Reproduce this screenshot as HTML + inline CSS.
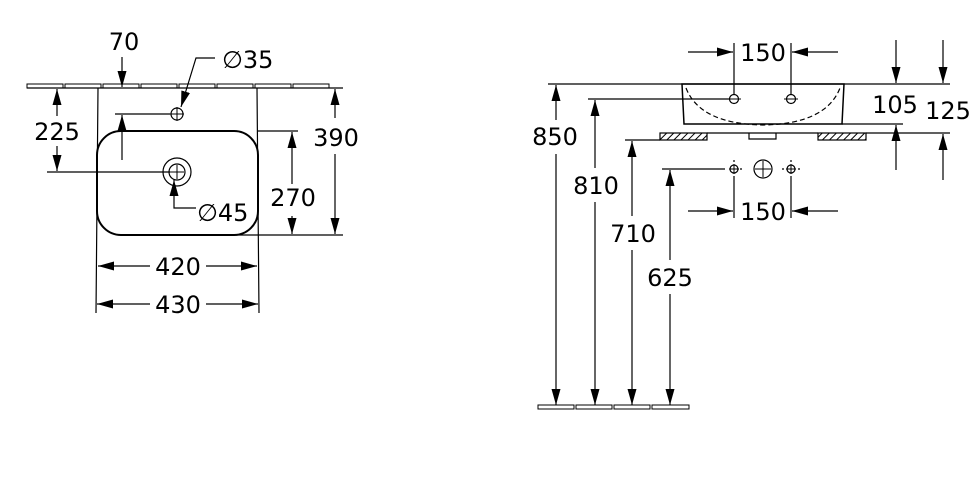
<!DOCTYPE html><html><head><style>body{margin:0;background:#fff}svg{display:block}text{font-family:"DejaVu Sans","Liberation Sans",sans-serif;font-size:24px;fill:#000}</style></head><body>
<svg width="979" height="494" viewBox="0 0 979 494" xmlns="http://www.w3.org/2000/svg">
<defs>
<marker id="a" viewBox="0 0 16 9" refX="16" refY="4.5" markerWidth="16" markerHeight="9" markerUnits="userSpaceOnUse" orient="auto"><path d="M0,0L16,4.5L0,9z" fill="#000"/></marker>
<pattern id="h" width="5" height="5" patternUnits="userSpaceOnUse" patternTransform="rotate(45)"><rect width="5" height="5" fill="#fff"/><line x1="0" y1="0" x2="0" y2="5" stroke="#000" stroke-width="2"/></pattern>
</defs>
<g stroke="#000" stroke-width="1.2" fill="none">
<g fill="#fff" stroke-width="1"><rect x="27" y="84" width="36" height="4"/><rect x="65" y="84" width="36" height="4"/><rect x="103" y="84" width="36" height="4"/><rect x="141" y="84" width="36" height="4"/><rect x="179" y="84" width="36" height="4"/><rect x="217" y="84" width="36" height="4"/><rect x="255" y="84" width="36" height="4"/><rect x="293" y="84" width="36" height="4"/></g>
<line x1="27" y1="88" x2="343" y2="88"/>
<path d="M98 88 L96 313 M257 88 L259 313"/>
<rect x="97" y="131" width="161" height="104" rx="24" stroke-width="2"/>
<circle cx="177" cy="114" r="6"/><path d="M170 114h14M177 107v14" stroke-width="1"/>
<circle cx="177" cy="172" r="14"/><circle cx="177" cy="172" r="8"/><path d="M170 172h14M177 165v14" stroke-width="1"/>
<line x1="47" y1="172" x2="170" y2="172"/>
<line x1="57" y1="116" x2="57" y2="89" marker-end="url(#a)"/><line x1="57" y1="146" x2="57" y2="171" marker-end="url(#a)"/>
<line x1="122" y1="57" x2="122" y2="87" marker-end="url(#a)"/><line x1="122" y1="160" x2="122" y2="115" marker-end="url(#a)"/>
<line x1="115" y1="114" x2="170" y2="114"/>
<path d="M215 58H196L181 107" marker-end="url(#a)"/>
<path d="M196 208H174V180" marker-end="url(#a)"/>
<line x1="258" y1="131" x2="298" y2="131"/><line x1="232" y1="235" x2="343" y2="235"/>
<line x1="292" y1="184" x2="292" y2="132" marker-end="url(#a)"/><line x1="292" y1="216" x2="292" y2="234" marker-end="url(#a)"/>
<line x1="335" y1="118" x2="335" y2="89" marker-end="url(#a)"/><line x1="335" y1="154" x2="335" y2="234" marker-end="url(#a)"/>
<line x1="150" y1="266" x2="98" y2="266" marker-end="url(#a)"/><line x1="206" y1="266" x2="257" y2="266" marker-end="url(#a)"/>
<line x1="150" y1="304" x2="97" y2="304" marker-end="url(#a)"/><line x1="206" y1="304" x2="258" y2="304" marker-end="url(#a)"/>
<line x1="548" y1="84" x2="950" y2="84"/>
<path d="M682 84H844L842 124H684Z" stroke-width="1.5"/>
<path d="M686 88Q700 124 763 125Q826 124 840 88" stroke-dasharray="5,3"/>
<rect x="660" y="133" width="47" height="7" fill="url(#h)"/><rect x="818" y="133" width="48" height="7" fill="url(#h)"/>
<path d="M707 133H818M749 133v6h27v-6"/>
<line x1="588" y1="99" x2="730" y2="99"/>
<circle cx="734" cy="99" r="4.5"/><circle cx="791" cy="99" r="4.5"/><path d="M727 99h14M784 99h14" stroke-width="1"/>
<line x1="734" y1="43" x2="734" y2="95"/><line x1="791" y1="43" x2="791" y2="95"/>
<line x1="688" y1="52" x2="733" y2="52" marker-end="url(#a)"/><line x1="838" y1="52" x2="792" y2="52" marker-end="url(#a)"/>
<line x1="896" y1="40" x2="896" y2="83" marker-end="url(#a)"/><line x1="896" y1="170" x2="896" y2="125" marker-end="url(#a)"/>
<line x1="842" y1="124" x2="903" y2="124"/><line x1="866" y1="133" x2="950" y2="133"/>
<line x1="943" y1="40" x2="943" y2="83" marker-end="url(#a)"/><line x1="943" y1="180" x2="943" y2="134" marker-end="url(#a)"/>
<line x1="625" y1="140" x2="660" y2="140"/>
<line x1="662" y1="169" x2="725" y2="169"/>
<path d="M740 169h4M782 169h4M798 169h4M734 160v2M791 160v2" stroke-dasharray="2,3"/>
<circle cx="734" cy="169" r="4"/><circle cx="763" cy="169" r="9"/><circle cx="791" cy="169" r="4"/>
<path d="M729 169h10M734 164v10M786 169h10M791 164v10M755 169h16M763 161v16" stroke-width="1"/>
<line x1="734" y1="176" x2="734" y2="218"/><line x1="791" y1="176" x2="791" y2="218"/>
<line x1="688" y1="211" x2="733" y2="211" marker-end="url(#a)"/><line x1="838" y1="211" x2="792" y2="211" marker-end="url(#a)"/>
<line x1="556" y1="120" x2="556" y2="85" marker-end="url(#a)"/><line x1="556" y1="154" x2="556" y2="405" marker-end="url(#a)"/>
<line x1="595" y1="168" x2="595" y2="100" marker-end="url(#a)"/><line x1="595" y1="202" x2="595" y2="405" marker-end="url(#a)"/>
<line x1="632" y1="216" x2="632" y2="141" marker-end="url(#a)"/><line x1="632" y1="250" x2="632" y2="405" marker-end="url(#a)"/>
<line x1="670" y1="260" x2="670" y2="170" marker-end="url(#a)"/><line x1="670" y1="294" x2="670" y2="405" marker-end="url(#a)"/>
<g fill="#fff" stroke-width="1"><rect x="538" y="405" width="36" height="4"/><rect x="576" y="405" width="36" height="4"/><rect x="614" y="405" width="36" height="4"/><rect x="652" y="405" width="37" height="4"/></g>
</g>
<g>
<text x="57" y="140" text-anchor="middle">225</text>
<text x="124" y="50" text-anchor="middle">70</text>
<text x="222" y="68">∅35</text>
<text x="197" y="221">∅45</text>
<text x="293" y="206" text-anchor="middle">270</text>
<text x="336" y="146" text-anchor="middle">390</text>
<text x="178" y="275" text-anchor="middle">420</text>
<text x="178" y="313" text-anchor="middle">430</text>
<text x="763" y="61" text-anchor="middle">150</text>
<text x="763" y="220" text-anchor="middle">150</text>
<text x="895" y="113" text-anchor="middle">105</text>
<text x="948" y="119" text-anchor="middle">125</text>
<text x="555" y="145" text-anchor="middle">850</text>
<text x="596" y="194" text-anchor="middle">810</text>
<text x="633" y="242" text-anchor="middle">710</text>
<text x="670" y="286" text-anchor="middle">625</text>
</g>
</svg></body></html>
